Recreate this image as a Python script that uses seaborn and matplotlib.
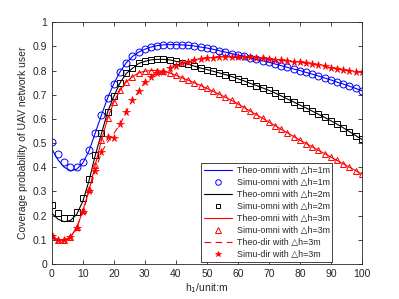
import numpy as np
import seaborn as sns
import matplotlib
matplotlib.use('Agg')
import matplotlib.pyplot as plt

# h1 positions (every 2 m)
h = np.arange(0, 101, 2)

# simulation values
simu_omni_1 = [0.505, 0.455, 0.423, 0.400, 0.402, 0.423, 0.471, 0.542, 0.616, 0.687,
               0.746, 0.795, 0.832, 0.858, 0.876, 0.888, 0.897, 0.903, 0.906, 0.907,
               0.907, 0.906, 0.904, 0.901, 0.897, 0.893, 0.888, 0.882, 0.876, 0.870,
               0.864, 0.858, 0.852, 0.846, 0.840, 0.834, 0.827, 0.820, 0.813, 0.806,
               0.800, 0.792, 0.785, 0.777, 0.769, 0.761, 0.752, 0.744, 0.735, 0.726,
               0.716]
simu_omni_2 = [0.244, 0.212, 0.189, 0.189, 0.216, 0.271, 0.350, 0.450, 0.540, 0.629,
               0.694, 0.749, 0.788, 0.809, 0.829, 0.838, 0.844, 0.846, 0.846, 0.844,
               0.838, 0.833, 0.826, 0.818, 0.810, 0.804, 0.797, 0.790, 0.783, 0.775,
               0.766, 0.757, 0.747, 0.738, 0.728, 0.718, 0.707, 0.695, 0.682, 0.670,
               0.657, 0.645, 0.632, 0.619, 0.606, 0.592, 0.578, 0.563, 0.547, 0.531,
               0.515]
simu_omni_3 = [0.120, 0.100, 0.100, 0.113, 0.152, 0.223, 0.309, 0.410, 0.512, 0.602,
               0.670, 0.719, 0.753, 0.774, 0.790, 0.797, 0.800, 0.800, 0.797, 0.790,
               0.780, 0.770, 0.760, 0.749, 0.738, 0.726, 0.714, 0.702, 0.689, 0.676,
               0.662, 0.647, 0.632, 0.617, 0.602, 0.587, 0.572, 0.557, 0.542, 0.527,
               0.512, 0.498, 0.484, 0.470, 0.456, 0.442, 0.428, 0.414, 0.400, 0.386,
               0.372]
simu_dir_3 = [0.115, 0.100, 0.100, 0.112, 0.150, 0.215, 0.300, 0.385, 0.462, 0.526,
              0.519, 0.578, 0.629, 0.678, 0.714, 0.753, 0.774, 0.788, 0.792, 0.809,
              0.820, 0.829, 0.836, 0.843, 0.847, 0.850, 0.853, 0.855, 0.856, 0.857,
              0.857, 0.856, 0.855, 0.853, 0.851, 0.848, 0.845, 0.842, 0.839, 0.836,
              0.834, 0.830, 0.826, 0.822, 0.817, 0.812, 0.807, 0.803, 0.799, 0.795,
              0.792]

# theoretical curves (differ from simulation at small h1)
theo_omni_1 = [0.475, 0.430, 0.400, 0.386, 0.392, 0.418, 0.468] + simu_omni_1[7:]
theo_omni_2 = [0.210, 0.185, 0.175, 0.180, 0.205, 0.260, 0.345] + simu_omni_2[7:]
theo_omni_3 = [0.106, 0.096, 0.097, 0.110, 0.150, 0.220, 0.305] + simu_omni_3[7:]
theo_dir_3 = simu_dir_3[:9] + [0.505, 0.540] + simu_dir_3[11:]

sns.set_style('white')
plt.rcParams['font.family'] = ['Liberation Sans', 'DejaVu Sans']
plt.rcParams['axes.edgecolor'] = '#262626'
plt.rcParams['axes.linewidth'] = 0.6

fig = plt.figure(figsize=(3.99, 2.99), dpi=100)
ax = fig.add_axes([0.130, 0.117, 0.777, 0.809])

lw = 0.8
sns.lineplot(x=h, y=theo_omni_1, color='blue', lw=lw, ax=ax,
             label='Theo-omni with \u25b3h=1m')
sns.lineplot(x=h, y=simu_omni_1, color='blue', ls='none', marker='o', ms=5,
             mfc='none', mec='blue', mew=0.7, ax=ax, label='Simu-omni with \u25b3h=1m')
sns.lineplot(x=h, y=theo_omni_2, color='black', lw=lw, ax=ax,
             label='Theo-omni with \u25b3h=2m')
sns.lineplot(x=h, y=simu_omni_2, color='black', ls='none', marker='s', ms=3.8,
             mfc='none', mec='black', mew=0.7, ax=ax, label='Simu-omni with \u25b3h=2m')
sns.lineplot(x=h, y=theo_omni_3, color='red', lw=lw, ax=ax,
             label='Theo-omni with \u25b3h=3m')
sns.lineplot(x=h, y=simu_omni_3, color='red', ls='none', marker='^', ms=5,
             mfc='none', mec='red', mew=0.7, ax=ax, label='Simu-omni with \u25b3h=3m')
sns.lineplot(x=h, y=theo_dir_3, color='red', lw=lw, ax=ax, dashes=False,
             label='Theo-dir with \u25b3h=3m')
ax.lines[-1].set_linestyle((0, (6, 4)))
sns.lineplot(x=h, y=simu_dir_3, color='red', ls='none', marker='*', ms=5.5,
             mfc='red', mec='red', mew=0.5, ax=ax, label='Simu-dir with \u25b3h=3m')

ax.set_xlim(0, 100)
ax.set_ylim(0, 1)
ax.set_xticks(np.arange(0, 101, 10))
ax.set_yticks(np.arange(0, 1.01, 0.1))
ax.set_yticklabels(['0', '0.1', '0.2', '0.3', '0.4', '0.5', '0.6', '0.7', '0.8', '0.9', '1'])
ax.tick_params(direction='in', length=3, width=0.6, labelsize=7.5, colors='#262626',
               top=True, right=True, bottom=True, left=True)
for s in ax.spines.values():
    s.set_visible(True)
    s.set_color('#262626')
    s.set_linewidth(0.6)

ax.set_xlabel('h$_1$/unit:m', fontsize=7.5, color='#262626', labelpad=2)
ax.set_ylabel('Coverage probability of UAV network user', fontsize=7.5,
              color='#262626', labelpad=3)

leg = ax.legend(loc='lower right', bbox_to_anchor=(0.905, 0.008), fontsize=6.4,
                frameon=True, fancybox=False, framealpha=1, edgecolor='#262626',
                handlelength=3.2, labelspacing=0.35, borderpad=0.3, handletextpad=0.5,
                borderaxespad=0, markerscale=0.8)
leg.get_frame().set_linewidth(0.6)

fig.savefig('out.png', dpi=100)
